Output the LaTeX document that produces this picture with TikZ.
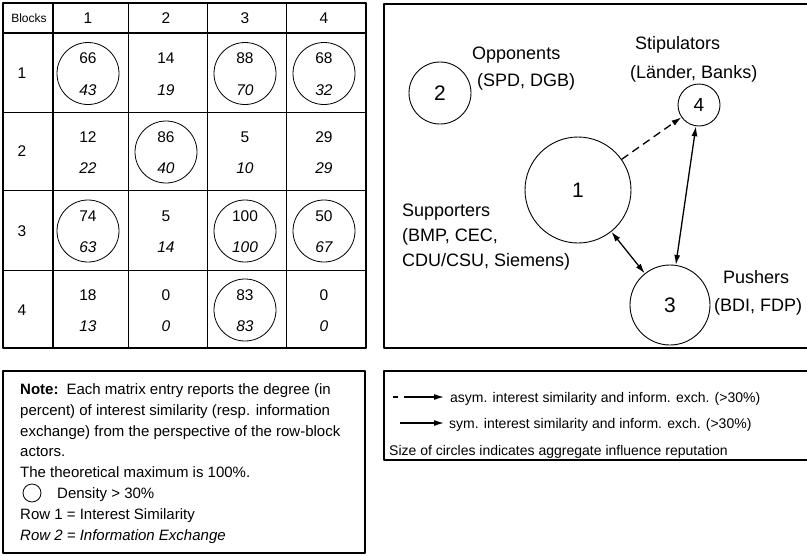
\documentclass[tikz,border=0pt]{standalone}
\usepackage{fontspec}
\setmainfont{Liberation Sans}
\usetikzlibrary{arrows.meta}

\tikzset{
  num/.style={inner sep=0pt, font=\fontsize{15.5}{18}\selectfont},
  inum/.style={num, font=\fontsize{15.5}{18}\selectfont\itshape},
  dens/.style={draw, circle, minimum size=62pt, inner sep=0pt, line width=.8pt},
  actor/.style={draw, circle, inner sep=0pt, line width=.9pt, font=\fontsize{21}{24}\selectfont},
  lbl/.style={anchor=base west, inner sep=0pt, font=\fontsize{18}{22}\selectfont},
  note/.style={anchor=base west, inner sep=0pt, font=\fontsize{15}{18}\selectfont},
  legend/.style={anchor=base west, inner sep=0pt, font=\fontsize{14}{17}\selectfont},
  tip/.style={-{Latex[length=10pt,width=6pt]}},
  ttip/.style={{Latex[length=10pt,width=6pt]}-{Latex[length=10pt,width=6pt]}}
}

\begin{document}
\begin{tikzpicture}[x=1pt, y=-1pt, line join=round]
\useasboundingbox (0,0) rectangle (807,555);

%boxes
\draw[line width=1.3pt] (3,3) rectangle (366,348);
\draw[line width=1.2pt] (384,4) rectangle (812,348);
\draw[line width=1.2pt] (3,371) rectangle (365,553);
\draw[line width=1.2pt] (384,371) rectangle (812,460);

%table grid
\draw[line width=2.2pt] (3,33) -- (366,33);
\draw[line width=1.8pt] (53,3) -- (53,348);
\draw[line width=.9pt] (128,3) -- (128,348) (207,3) -- (207,348) (286,3) -- (286,348);
\draw[line width=.9pt] (3,112) -- (366,112) (3,190) -- (366,190) (3,270) -- (366,270);

%header
\node[inner sep=0pt, font=\fontsize{12}{14}\selectfont] (hb) at (29,18) {Blocks};
\node[num] (h1) at (88,18) {1};
\node[num] (h2) at (166,18) {2};
\node[num] (h3) at (245,18) {3};
\node[num] (h4) at (324,18) {4};
\node[num] (r1) at (22,73) {1};
\node[num] (r2) at (22,151) {2};
\node[num] (r3) at (22,231) {3};
\node[num] (r4) at (22,310) {4};

%densities above 30 percent
\node[dens] (d11) at (88,73.5) {};
\node[dens] (d13) at (245,73.5) {};
\node[dens] (d14) at (324,73.5) {};
\node[dens] (d22) at (166,152) {};
\node[dens] (d31) at (88,231) {};
\node[dens] (d33) at (245,231) {};
\node[dens] (d34) at (324,231) {};
\node[dens] (d43) at (245,310) {};

%row 1
\node[num] (a11) at (88,58) {66};   \node[inum] (b11) at (88,90) {43};
\node[num] (a12) at (166,58) {14};  \node[inum] (b12) at (166,90) {19};
\node[num] (a13) at (245,58) {88};  \node[inum] (b13) at (245,90) {70};
\node[num] (a14) at (324,58) {68};  \node[inum] (b14) at (324,90) {32};
%row 2
\node[num] (a21) at (88,137) {12};  \node[inum] (b21) at (88,168) {22};
\node[num] (a22) at (166,137) {86}; \node[inum] (b22) at (166,168) {40};
\node[num] (a23) at (245,137) {5};  \node[inum] (b23) at (245,168) {10};
\node[num] (a24) at (324,137) {29}; \node[inum] (b24) at (324,168) {29};
%row 3
\node[num] (a31) at (88,216) {74};  \node[inum] (b31) at (88,247) {63};
\node[num] (a32) at (166,216) {5};  \node[inum] (b32) at (166,247) {14};
\node[num] (a33) at (245,216) {100};\node[inum] (b33) at (245,247) {100};
\node[num] (a34) at (324,216) {50}; \node[inum] (b34) at (324,247) {67};
%row 4
\node[num] (a41) at (88,295) {18};  \node[inum] (b41) at (88,326) {13};
\node[num] (a42) at (166,295) {0};  \node[inum] (b42) at (166,326) {0};
\node[num] (a43) at (245,295) {83}; \node[inum] (b43) at (245,326) {83};
\node[num] (a44) at (324,295) {0};  \node[inum] (b44) at (324,326) {0};

%note
\node[note] (n1) at (20,394) {\textbf{Note:}\, Each matrix entry reports the degree (in};
\node[note] (n2) at (20,415) {percent) of interest similarity (resp. information};
\node[note] (n3) at (20,436) {exchange) from the perspective of the row-block};
\node[note] (n4) at (20,456) {actors.};
\node[note] (n5) at (20,477) {The theoretical maximum is 100\%.};
\node[draw, circle, minimum size=18pt, inner sep=0pt, line width=.8pt] (ndens) at (32,493) {};
\node[note] (n6) at (57,498) {Density > 30\%};
\node[note] (n7) at (20,519) {Row 1 = Interest Similarity};
\node[note, font=\fontsize{15}{18}\selectfont\itshape] (n8) at (20,540) {Row 2 = Information Exchange};

%actors
\node[actor, minimum size=106pt] (s1) at (578,190) {1};
\node[actor, minimum size=62pt] (s2) at (440,93) {2};
\node[actor, minimum size=80pt] (s3) at (670,305) {3};
\node[actor, minimum size=42pt, font=\fontsize{19}{22}\selectfont] (s4) at (699,105) {4};

\node[lbl] (opp) at (472,59) {Opponents};
\node[lbl] (oppm) at (477,86) {(SPD, DGB)};
\node[lbl] (sti) at (635,49) {Stipulators};
\node[lbl] (stim) at (630,78) {(Länder, Banks)};
\node[lbl] (sup) at (402,216) {Supporters};
\node[lbl] (supm) at (402,241) {(BMP, CEC,};
\node[lbl] (supn) at (402,266) {CDU/CSU, Siemens)};
\node[lbl] (pus) at (723,283) {Pushers};
\node[lbl] (pusm) at (714,311) {(BDI, FDP)};

%ties
\draw[tip, line width=1.3pt, dash pattern=on 8pt off 5pt] (s1) -- (s4);
\draw[ttip, line width=1.3pt] (s1) -- (s3);
\draw[ttip, line width=1.3pt] (s3) -- (s4);

%legend
\coordinate (la) at (393,397);
\coordinate (lb) at (444,397);
\coordinate (lc) at (400,423);
\coordinate (ld) at (444,423);
\draw[tip, line width=1.3pt, dash pattern=on 5pt off 6pt on 30pt off 0pt] (la) -- (lb);
\draw[tip, line width=1.3pt] (lc) -- (ld);
\node[legend] (l1) at (450,402) {asym. interest similarity and inform. exch. (>30\%)};
\node[legend] (l2) at (449,428) {sym. interest similarity and inform. exch. (>30\%)};
\node[legend] (l3) at (389,455) {Size of circles indicates aggregate influence reputation};
\end{tikzpicture}
\end{document}
